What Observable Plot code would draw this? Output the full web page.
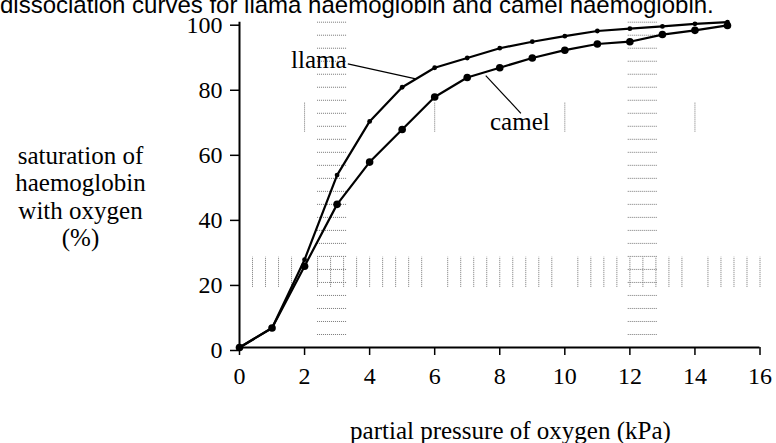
<!DOCTYPE html>
<html><head><meta charset="utf-8">
<script src="https://cdn.jsdelivr.net/npm/d3@7"></script>
<script src="https://cdn.jsdelivr.net/npm/@observablehq/plot@0.6"></script>
<style>
html,body{margin:0;padding:0;background:#fff;}
#wrap{position:relative;width:776px;height:443px;overflow:hidden;}
#title{position:absolute;left:0;top:-7px;font-size:24px;font-family:"Liberation Sans",Arial,sans-serif;line-height:24px;white-space:nowrap;color:#000;}
#chart svg text{font-family:"Liberation Serif","Times New Roman",serif !important;}
#chart svg g[aria-label$="tick label"] text{font-size:24px !important;}
</style></head><body>
<div id="wrap"><div id="chart"></div><div id="title">dissociation curves for llama haemoglobin and camel haemoglobin.</div></div>
<script>
// ---- data ----
const pressure = [0, 1, 2, 3, 4, 5, 6, 7, 8, 9, 10, 11, 12, 13, 14, 15];
const llamaSaturation = [0, 6, 27, 53, 69.5, 80, 86, 89, 92, 94, 95.7, 97.3, 98, 98.7, 99.5, 100];
const camelSaturation = [0, 6, 25, 44, 57, 67, 77, 83, 86, 89, 91.4, 93.3, 94, 96.2, 97.5, 99];
const xTicks = [0, 2, 4, 6, 8, 10, 12, 14, 16];
const yTicks = [0, 20, 40, 60, 80, 100];
const xLabel = "partial pressure of oxygen (kPa)";
const yLabel = "saturation of\nhaemoglobin\nwith oxygen\n(%)";
const seriesNames = ["llama", "camel"];
const labelX = [3.29, 7.70];
const labelY = [86.0, 66.9];
const leaderFrom = [[3.33, 87.2], [7.57, 83.6]];
const leaderTo = [[5.42, 82.6], [8.65, 72.0]];
// faint grid remnants visible in the scanned original
const remnantRows = [4, 8, 12, 16, 20, 24, 28, 32, 36, 40, 44, 48, 52, 56, 60, 64, 68, 72, 76, 80, 84, 88, 92, 96, 100];
const remnantCols = [[2.4, 3.3], [11.95, 12.85]];
const remnantBandX = [0.4, 0.8, 1.2, 1.6, 2.4, 2.8, 3.2, 3.6, 4, 4.4, 4.8, 5.2, 5.6, 6.4, 6.8, 7.2, 7.6, 8, 8.4, 8.8, 9.2, 9.6, 10.4, 10.8, 11.2, 11.6, 12, 12.4, 12.8, 13.2, 13.6, 14.4, 14.8, 15.2, 15.6, 16];
const remnantBandY = [18.5, 27.8];
const remnantUpperX = [2, 6, 10, 14];
const remnantUpperY = [66.2, 75.4];

// ---- tables ----
const llama = pressure.map((p, i) => ({p, s: llamaSaturation[i]}));
const camel = pressure.map((p, i) => ({p, s: camelSaturation[i]}));
const labels = seriesNames.map((n, i) => ({n, x: labelX[i], y: labelY[i]}));
const leaders = seriesNames.map((n, i) => ({x1: leaderFrom[i][0], y1: leaderFrom[i][1], x2: leaderTo[i][0], y2: leaderTo[i][1]}));

const remnantStyle = {stroke: "#777", strokeWidth: 1, strokeDasharray: "1,1"};

const chart = Plot.plot({
  width: 776,
  height: 443,
  marginLeft: 239,
  marginRight: 16.5,
  marginTop: 21.7,
  marginBottom: 96,
  style: {fontFamily: "Liberation Serif, serif", fontSize: "24px", color: "#000", background: "#fff", overflow: "visible"},
  x: {domain: [0, 16], ticks: xTicks},
  y: {domain: [0, 100], ticks: yTicks},
  marks: [
    ...remnantCols.map(c => Plot.ruleY(remnantRows, {y: d => d, x1: c[0], x2: c[1], ...remnantStyle})),
    Plot.ruleX(remnantBandX, {x: d => d, y1: remnantBandY[0], y2: remnantBandY[1], ...remnantStyle}),
    Plot.ruleX(remnantUpperX, {x: d => d, y1: remnantUpperY[0], y2: remnantUpperY[1], ...remnantStyle}),
    Plot.axisX({ticks: xTicks, tickSize: 8, tickPadding: 11, label: null, strokeWidth: 1.5, fontSize: 24}),
    Plot.axisY({ticks: yTicks, tickSize: 9, tickPadding: 8, label: null, strokeWidth: 1.5, fontSize: 24, dy: 3}),
    Plot.ruleX([0], {strokeWidth: 2}),
    Plot.ruleY([0], {strokeWidth: 2}),
    Plot.line(llama, {x: "p", y: "s", stroke: "#000", strokeWidth: 2.2}),
    Plot.line(camel, {x: "p", y: "s", stroke: "#000", strokeWidth: 2.2}),
    Plot.dot(llama, {x: "p", y: "s", r: 2.4, fill: "#000", stroke: null}),
    Plot.dot(camel, {x: "p", y: "s", r: 3.8, fill: "#000", stroke: null}),
    Plot.link(leaders, {x1: "x1", y1: "y1", x2: "x2", y2: "y2", stroke: "#000", strokeWidth: 1.2}),
    Plot.text(labels.filter(d => d.n === "llama"), {x: "x", y: "y", text: "n", textAnchor: "end", lineAnchor: "bottom", fontSize: 25, fill: "#000"}),
    Plot.text(labels.filter(d => d.n === "camel"), {x: "x", y: "y", text: "n", textAnchor: "start", lineAnchor: "bottom", fontSize: 25, fill: "#000"}),
    Plot.text([xLabel], {frameAnchor: "bottom", text: d => d, lineAnchor: "bottom", dx: 10.7, dy: 91, fontSize: 25, fill: "#000"}),
    Plot.text([yLabel], {frameAnchor: "top-left", text: d => d, textAnchor: "middle", lineAnchor: "top", lineHeight: 1.1, dx: -159, dy: 122, fontSize: 25, fill: "#000"})
  ]
});
document.getElementById("chart").appendChild(chart);
</script>
</body></html>
